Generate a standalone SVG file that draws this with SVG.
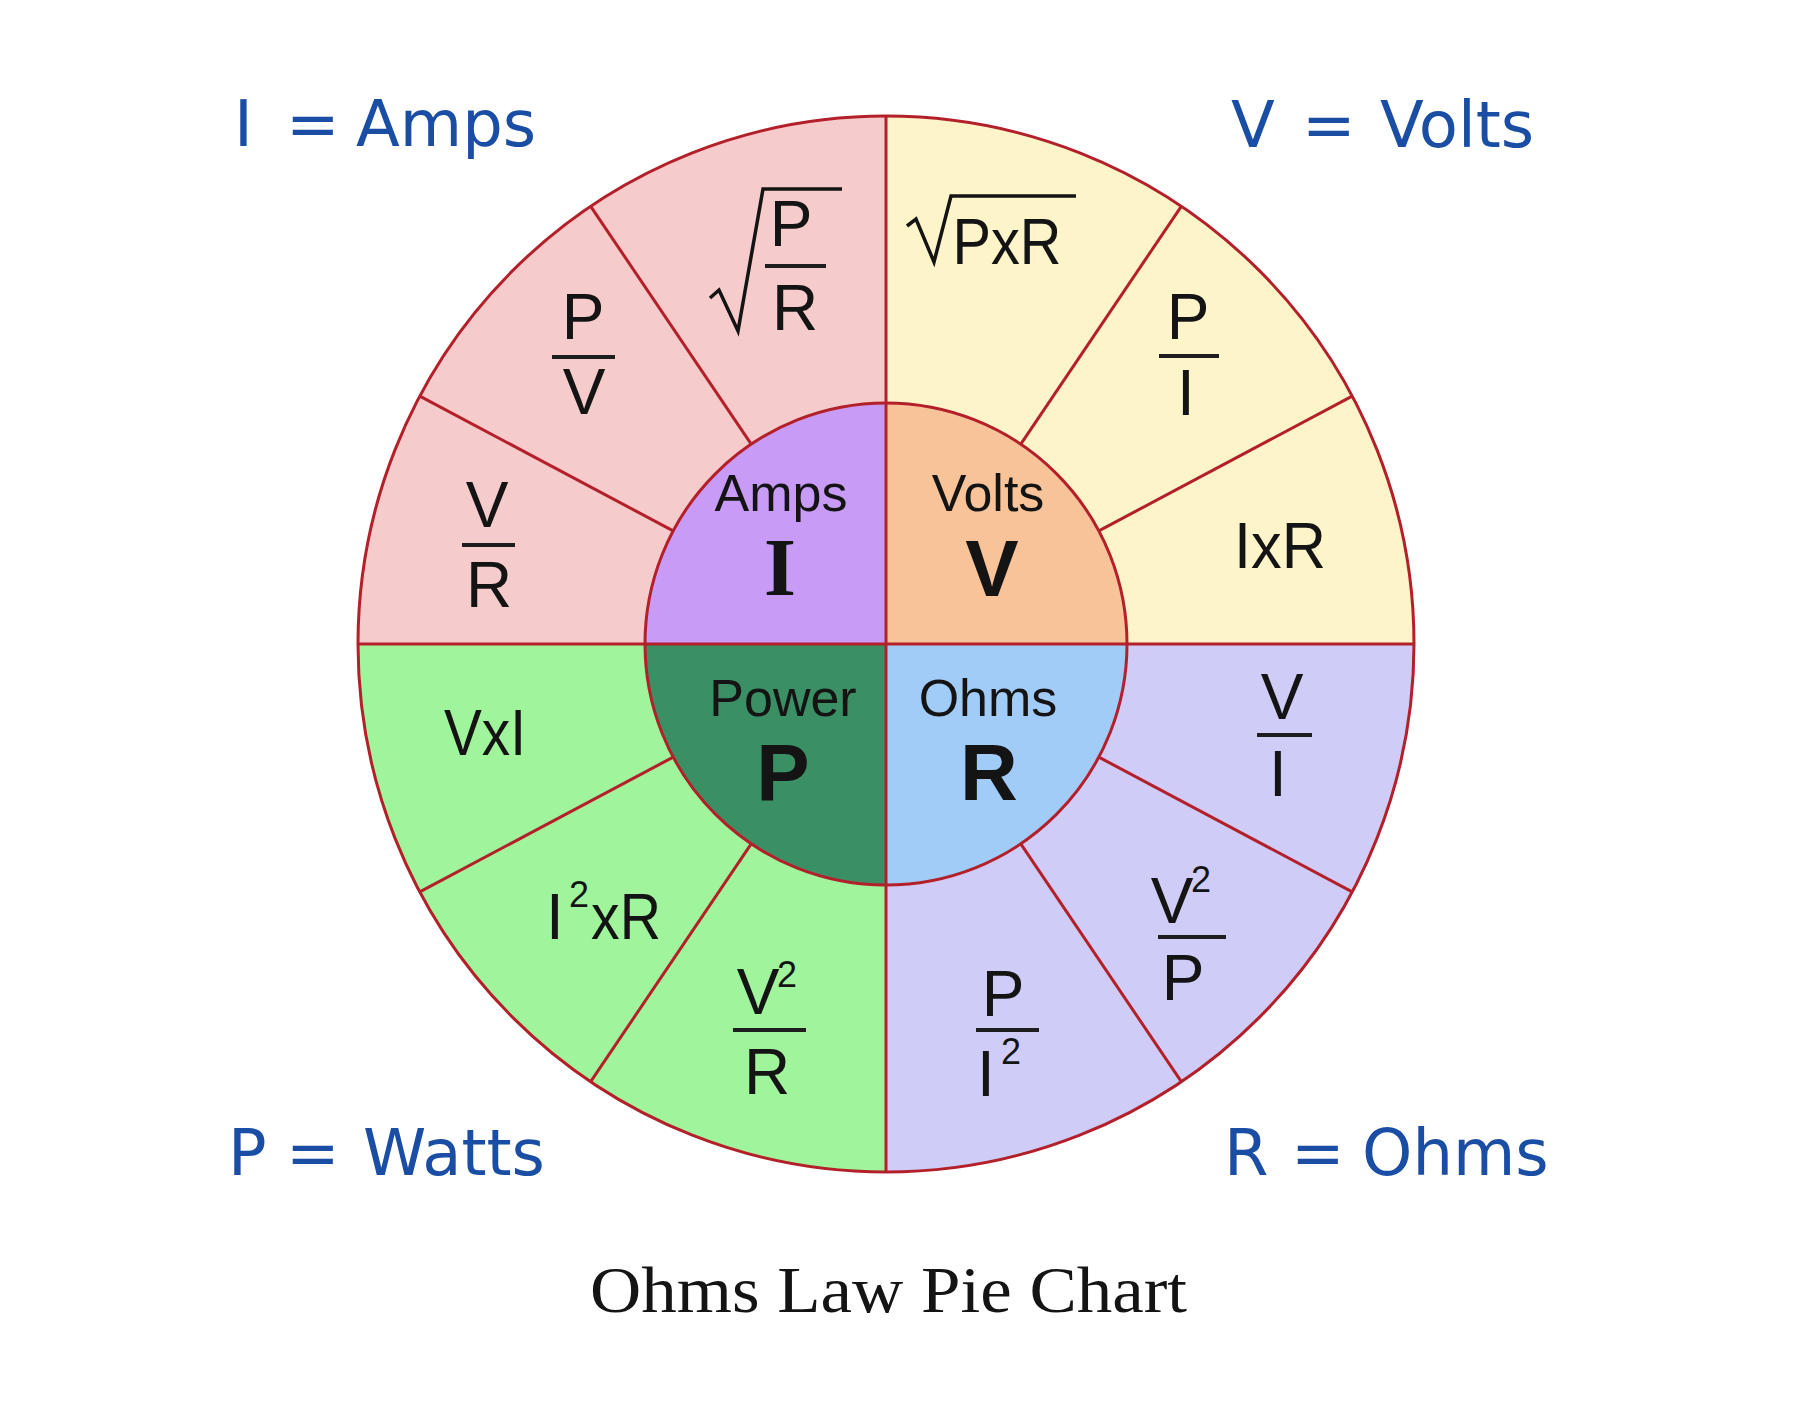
<svg xmlns="http://www.w3.org/2000/svg" width="1816" height="1416" viewBox="0 0 1816 1416">
<style>
.f{font-family:"Liberation Sans",Arial,sans-serif;font-size:64px;fill:#141414;text-anchor:middle}
.sup{font-family:"Liberation Sans",Arial,sans-serif;font-size:36px;fill:#141414}
.nm{font-family:"Liberation Sans",Arial,sans-serif;font-size:52px;fill:#141414;text-anchor:middle}
.big{font-family:"Liberation Sans",Arial,sans-serif;font-size:80px;font-weight:bold;fill:#141414;text-anchor:middle}
.lbl{font-family:"DejaVu Sans",Verdana,sans-serif;font-size:64px;fill:#1a4ea5}
.bar{stroke:#1e1e1e;stroke-width:4}
.div{stroke:#b3202a;stroke-width:3;fill:none}
.rad{stroke:#141414;stroke-width:3.5;fill:none;stroke-linejoin:miter}
</style>
<rect width="1816" height="1416" fill="#ffffff"/>

<g id="quadrant-amps">
<path d="M886,644 L358,644 A528,528 0 0 1 886,116 Z" fill="#f6cbcb"/>
<path d="M886,644 L645,644 A241,241 0 0 1 886,403 Z" fill="#c89bf6"/>
</g>
<g id="quadrant-volts">
<path d="M886,644 L886,116 A528,528 0 0 1 1414,644 Z" fill="#fdf5c9"/>
<path d="M886,644 L886,403 A241,241 0 0 1 1127,644 Z" fill="#f8c398"/>
</g>
<g id="quadrant-ohms">
<path d="M886,644 L1414,644 A528,528 0 0 1 886,1172 Z" fill="#cfcdf7"/>
<path d="M886,644 L1127,644 A241,241 0 0 1 886,885 Z" fill="#a2ccf8"/>
</g>
<g id="quadrant-power">
<path d="M886,644 L886,1172 A528,528 0 0 1 358,644 Z" fill="#a0f59c"/>
<path d="M886,644 L886,885 A241,241 0 0 1 645,644 Z" fill="#3a9064"/>
</g>

<g id="dividers">
<line class="div" x1="358" y1="644" x2="1414" y2="644"/>
<line class="div" x1="886" y1="116" x2="886" y2="1172"/>
<line class="div" x1="673.2" y1="530.9" x2="419.8" y2="396.1"/>
<line class="div" x1="751.2" y1="444.2" x2="590.7" y2="206.3"/>
<line class="div" x1="1098.8" y1="530.9" x2="1352.2" y2="396.1"/>
<line class="div" x1="1020.8" y1="444.2" x2="1181.3" y2="206.3"/>
<line class="div" x1="673.2" y1="757.1" x2="419.8" y2="891.9"/>
<line class="div" x1="751.2" y1="843.8" x2="590.7" y2="1081.7"/>
<line class="div" x1="1098.8" y1="757.1" x2="1352.2" y2="891.9"/>
<line class="div" x1="1020.8" y1="843.8" x2="1181.3" y2="1081.7"/>
<circle class="div" cx="886" cy="644" r="241"/>
<circle class="div" cx="886" cy="644" r="528" stroke-width="3.5"/>
</g>

<g id="inner-labels">
<text class="nm" x="781" y="511">Amps</text>
<text x="780" y="595" font-family="Liberation Serif,Times New Roman,serif" font-size="82" font-weight="bold" fill="#141414" text-anchor="middle">I</text>
<text class="nm" x="988" y="511">Volts</text>
<text class="big" x="992" y="596">V</text>
<text class="nm" x="783" y="716">Power</text>
<text class="big" x="783" y="800">P</text>
<text class="nm" x="988" y="716">Ohms</text>
<text class="big" x="989" y="800">R</text>
</g>

<g id="formulas-amps">
<path class="rad" d="M710,298 L719,290 L738,331 L763,189 L842,189"/>
<text class="f" x="791" y="246">P</text>
<line class="bar" x1="765" y1="266" x2="826" y2="266"/>
<text class="f" x="795" y="330">R</text>
<text class="f" x="583" y="339">P</text>
<line class="bar" x1="552" y1="357" x2="615" y2="357"/>
<text class="f" x="584" y="414">V</text>
<text class="f" x="487" y="527">V</text>
<line class="bar" x1="462" y1="545" x2="515" y2="545"/>
<text class="f" x="489" y="607">R</text>
</g>

<g id="formulas-volts">
<path class="rad" d="M907,226 L916,219 L934,262 L951,196 L1076,196"/>
<text class="f" x="1007" y="264" textLength="109" lengthAdjust="spacingAndGlyphs">PxR</text>
<text class="f" x="1188" y="339">P</text>
<line class="bar" x1="1159" y1="356" x2="1219" y2="356"/>
<text class="f" x="1186" y="415">I</text>
<text class="f" x="1280" y="568" textLength="92" lengthAdjust="spacingAndGlyphs">IxR</text>
</g>

<g id="formulas-power">
<text class="f" x="485" y="755" textLength="82" lengthAdjust="spacingAndGlyphs">VxI</text>
<text class="f" x="555" y="939">I</text>
<text class="sup" x="569" y="907">2</text>
<text class="f" x="626" y="939" textLength="70" lengthAdjust="spacingAndGlyphs">xR</text>
<text class="f" x="758" y="1014">V</text>
<text class="sup" x="777" y="987">2</text>
<line class="bar" x1="733" y1="1030" x2="806" y2="1030"/>
<text class="f" x="767" y="1094">R</text>
</g>

<g id="formulas-ohms">
<text class="f" x="1282" y="719">V</text>
<line class="bar" x1="1257" y1="735" x2="1312" y2="735"/>
<text class="f" x="1278" y="796">I</text>
<text class="f" x="1172" y="923">V</text>
<text class="sup" x="1191" y="892">2</text>
<line class="bar" x1="1158" y1="937" x2="1226" y2="937"/>
<text class="f" x="1183" y="1000">P</text>
<text class="f" x="1003" y="1016">P</text>
<line class="bar" x1="976" y1="1030" x2="1039" y2="1030"/>
<text class="f" x="986" y="1096">I</text>
<text class="sup" x="1001" y="1064">2</text>
</g>

<g id="legend">
<text class="lbl" y="146"><tspan x="234">I</tspan><tspan x="286">=</tspan><tspan x="356">Amps</tspan></text>
<text class="lbl" y="147"><tspan x="1231">V</tspan><tspan x="1302">=</tspan><tspan x="1380">Volts</tspan></text>
<text class="lbl" y="1175"><tspan x="228">P</tspan><tspan x="286">=</tspan><tspan x="363">Watts</tspan></text>
<text class="lbl" y="1175"><tspan x="1224">R</tspan><tspan x="1291">=</tspan><tspan x="1362">Ohms</tspan></text>
</g>

<text id="title" x="590" y="1312" font-family="Liberation Serif,Times New Roman,serif" font-size="66" fill="#141414" textLength="597" lengthAdjust="spacingAndGlyphs">Ohms Law Pie Chart</text>
</svg>
